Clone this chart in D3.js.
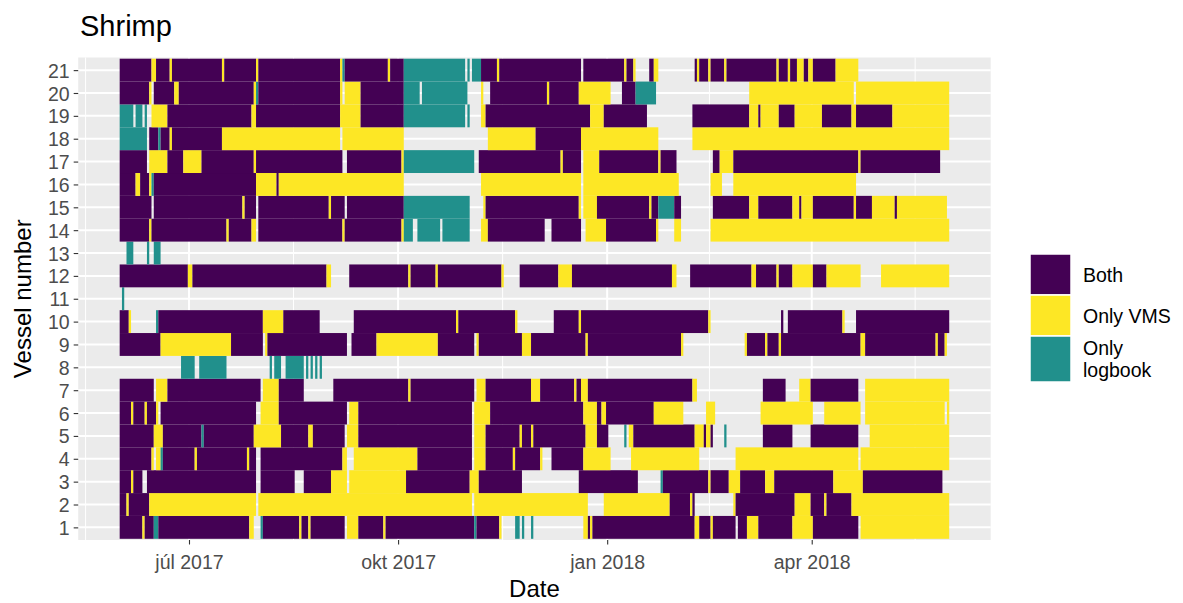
<!DOCTYPE html>
<html><head><meta charset="utf-8">
<script src="https://cdn.jsdelivr.net/npm/d3@7"></script>
<style>body{margin:0;background:#fff}svg{display:block}text{font-family:"Liberation Sans",Arial,sans-serif}</style>
</head><body><svg id="c" width="1183" height="603"></svg>
<script>
// ---- data ----
const startDate = "2017-06-01";           // day 0
const numDays = 365;
const categories = ["Both", "Only VMS", "Only logbook"];
const catCodes = ["B", "V", "L"];
const catColors = ["#440154", "#FDE725", "#21908C"];
const tickDates = ["2017-07-01", "2017-10-01", "2018-01-01", "2018-04-01"];
const tickLabels = ["júl 2017", "okt 2017", "jan 2018", "apr 2018"];
const vesselNumbers = d3.range(1, 22);
// runs: [firstDay, endDay(exclusive), category code]
const vessel1 = [[0,10,"B"],[10,11,"V"],[11,15,"B"],[15,17,"L"],[17,57,"B"],[57,59,"V"],[62,63,"L"],[63,79,"B"],[79,80,"V"],[80,83,"B"],[83,84,"V"],[84,99,"B"],[100,105,"V"],[105,116,"B"],[116,117,"V"],[117,156,"B"],[156,157,"L"],[157,167,"B"],[167,168,"V"],[174,176,"L"],[177,178,"L"],[181,182,"L"],[204,206,"V"],[206,207,"B"],[207,208,"V"],[208,253,"B"],[253,255,"V"],[255,260,"B"],[260,261,"V"],[261,271,"B"],[272,276,"B"],[276,281,"V"],[281,296,"B"],[296,305,"V"],[305,325,"B"],[326,365,"V"]];
const vessel2 = [[0,3,"B"],[3,4,"V"],[4,13,"B"],[13,60,"V"],[61,155,"V"],[156,206,"V"],[213,242,"V"],[242,251,"B"],[251,252,"V"],[252,253,"B"],[270,271,"V"],[271,297,"B"],[297,304,"V"],[304,310,"B"],[310,311,"V"],[311,322,"B"],[322,365,"V"]];
const vessel3 = [[0,5,"B"],[5,6,"V"],[6,10,"B"],[12,60,"B"],[62,77,"B"],[81,93,"B"],[93,100,"V"],[101,126,"V"],[126,154,"B"],[154,158,"V"],[158,177,"B"],[202,228,"B"],[238,239,"L"],[239,259,"B"],[259,260,"V"],[260,268,"B"],[268,273,"V"],[273,284,"B"],[284,288,"V"],[288,314,"B"],[314,327,"V"],[327,362,"B"]];
const vessel4 = [[0,14,"B"],[14,15,"V"],[16,18,"V"],[18,19,"L"],[19,33,"B"],[33,34,"V"],[34,56,"B"],[56,57,"V"],[57,60,"B"],[62,98,"B"],[98,100,"V"],[103,131,"V"],[131,155,"B"],[156,161,"V"],[161,173,"B"],[173,174,"V"],[174,185,"B"],[185,186,"V"],[190,204,"B"],[204,216,"V"],[225,255,"V"],[271,325,"V"],[326,365,"V"]];
const vessel5 = [[0,15,"B"],[15,19,"V"],[19,36,"B"],[36,37,"L"],[37,59,"B"],[59,71,"V"],[71,83,"B"],[83,85,"V"],[85,99,"B"],[100,105,"V"],[105,155,"B"],[156,161,"V"],[161,176,"B"],[176,177,"V"],[177,181,"B"],[181,182,"V"],[182,205,"B"],[205,210,"V"],[210,215,"B"],[222,223,"L"],[224,226,"V"],[226,253,"B"],[253,257,"V"],[257,258,"B"],[258,260,"V"],[260,261,"B"],[266,267,"L"],[283,296,"B"],[304,325,"B"],[330,365,"V"]];
const vessel6 = [[0,5,"B"],[5,6,"V"],[6,11,"B"],[11,12,"V"],[12,16,"B"],[16,17,"V"],[18,60,"B"],[62,70,"V"],[70,100,"B"],[101,105,"V"],[105,155,"B"],[156,163,"V"],[163,204,"B"],[204,210,"V"],[210,212,"B"],[212,214,"V"],[214,235,"B"],[235,248,"V"],[258,262,"V"],[282,305,"V"],[310,326,"V"],[328,363,"V"],[364,365,"V"]];
const vessel7 = [[0,15,"B"],[16,21,"V"],[21,62,"B"],[63,70,"V"],[70,81,"B"],[94,127,"B"],[127,128,"V"],[128,156,"B"],[157,161,"V"],[161,181,"B"],[181,185,"V"],[185,200,"B"],[200,201,"V"],[201,203,"B"],[203,206,"V"],[206,252,"B"],[252,254,"V"],[283,293,"B"],[299,304,"V"],[304,325,"B"],[328,365,"V"]];
const vessel8 = [[27,33,"L"],[35,47,"L"],[66,67,"L"],[68,71,"L"],[73,81,"L"],[82,83,"L"],[84,85,"L"],[86,87,"L"],[88,89,"L"]];
const vessel9 = [[0,18,"B"],[18,49,"V"],[49,63,"B"],[64,65,"V"],[65,100,"B"],[102,113,"B"],[113,140,"V"],[140,156,"B"],[157,158,"V"],[158,177,"B"],[177,181,"V"],[181,205,"B"],[205,206,"V"],[206,247,"B"],[247,248,"V"],[275,276,"V"],[276,284,"B"],[284,285,"V"],[285,290,"B"],[290,291,"V"],[291,326,"B"],[326,328,"V"],[328,359,"B"],[359,360,"V"],[360,363,"B"],[363,364,"V"]];
const vessel10 = [[0,4,"B"],[4,5,"V"],[16,17,"L"],[17,63,"B"],[63,72,"V"],[72,88,"B"],[103,148,"B"],[148,149,"V"],[149,174,"B"],[174,175,"V"],[191,202,"B"],[202,203,"V"],[203,259,"B"],[259,260,"V"],[291,292,"B"],[294,318,"B"],[318,319,"V"],[324,365,"B"]];
const vessel11 = [[1,2,"L"]];
const vessel12 = [[0,30,"B"],[30,32,"V"],[32,91,"B"],[91,93,"V"],[101,127,"B"],[127,128,"V"],[128,139,"B"],[139,140,"V"],[140,168,"B"],[168,169,"V"],[176,193,"B"],[193,199,"V"],[199,243,"B"],[243,245,"V"],[251,278,"B"],[278,280,"V"],[280,289,"B"],[289,290,"V"],[290,296,"B"],[296,305,"V"],[305,311,"B"],[311,326,"V"],[335,365,"V"]];
const vessel13 = [[3,6,"L"],[12,13,"L"],[15,18,"L"]];
const vessel14 = [[0,13,"B"],[13,14,"V"],[14,47,"B"],[47,48,"V"],[48,58,"B"],[58,60,"V"],[61,98,"B"],[98,99,"V"],[99,124,"B"],[124,125,"V"],[125,129,"L"],[131,141,"L"],[142,154,"L"],[159,162,"V"],[162,187,"B"],[190,203,"B"],[205,214,"V"],[214,236,"B"],[236,237,"V"],[244,247,"V"],[260,365,"V"]];
const vessel15 = [[0,14,"B"],[15,54,"B"],[54,55,"V"],[55,60,"B"],[61,92,"B"],[92,93,"V"],[93,99,"B"],[100,125,"B"],[125,154,"L"],[160,161,"V"],[161,202,"B"],[202,203,"V"],[204,210,"V"],[210,233,"B"],[233,234,"V"],[234,237,"B"],[237,244,"L"],[244,247,"B"],[261,277,"B"],[277,281,"V"],[281,296,"B"],[296,299,"V"],[299,300,"B"],[300,305,"V"],[305,323,"B"],[323,324,"V"],[324,331,"B"],[331,341,"V"],[341,342,"B"],[342,364,"V"]];
const vessel16 = [[0,7,"B"],[7,9,"V"],[9,13,"B"],[13,14,"V"],[14,15,"L"],[15,60,"B"],[60,69,"V"],[69,70,"B"],[70,125,"V"],[159,203,"V"],[204,246,"V"],[260,265,"V"],[270,324,"V"]];
const vessel17 = [[0,12,"B"],[13,21,"V"],[21,28,"B"],[28,36,"V"],[36,59,"B"],[59,60,"V"],[60,98,"B"],[100,124,"B"],[124,125,"V"],[125,156,"L"],[158,194,"B"],[194,195,"V"],[195,203,"B"],[204,211,"V"],[211,237,"B"],[237,238,"V"],[238,245,"B"],[261,264,"B"],[264,270,"V"],[270,325,"B"],[325,326,"V"],[326,361,"B"]];
const vessel18 = [[0,12,"L"],[13,17,"B"],[17,18,"L"],[18,22,"B"],[22,23,"V"],[23,45,"B"],[45,97,"V"],[98,125,"V"],[162,183,"V"],[183,203,"B"],[203,237,"V"],[252,365,"V"]];
const vessel19 = [[0,6,"L"],[7,10,"L"],[11,12,"L"],[14,21,"V"],[21,58,"B"],[58,60,"V"],[60,97,"B"],[97,106,"V"],[106,125,"B"],[125,152,"L"],[153,154,"L"],[159,161,"V"],[161,207,"B"],[207,213,"V"],[213,232,"B"],[252,277,"B"],[277,281,"V"],[281,282,"B"],[282,290,"V"],[290,297,"B"],[297,309,"V"],[309,322,"B"],[322,324,"V"],[324,340,"B"],[340,365,"V"]];
const vessel20 = [[0,13,"B"],[13,14,"V"],[15,24,"B"],[24,26,"V"],[26,59,"B"],[59,60,"V"],[60,61,"L"],[61,97,"B"],[97,98,"V"],[99,106,"V"],[106,125,"B"],[125,132,"L"],[133,153,"L"],[159,160,"V"],[163,188,"B"],[188,189,"V"],[189,202,"B"],[202,216,"V"],[221,227,"B"],[227,236,"L"],[277,323,"V"],[324,365,"V"]];
const vessel21 = [[0,14,"B"],[14,16,"V"],[16,22,"B"],[22,23,"V"],[23,45,"B"],[45,46,"V"],[46,60,"B"],[60,61,"V"],[61,97,"B"],[97,98,"V"],[98,99,"L"],[99,118,"B"],[118,119,"V"],[119,125,"B"],[125,152,"L"],[153,154,"L"],[155,159,"L"],[159,166,"B"],[166,167,"V"],[167,203,"B"],[204,222,"B"],[222,223,"V"],[223,226,"B"],[226,227,"V"],[233,235,"B"],[235,237,"V"],[253,254,"B"],[254,255,"V"],[255,259,"B"],[259,260,"V"],[260,266,"B"],[266,267,"V"],[267,289,"B"],[289,290,"V"],[290,294,"B"],[294,295,"V"],[295,298,"B"],[298,301,"V"],[301,303,"B"],[303,305,"V"],[305,315,"B"],[315,325,"V"]];
const vesselRuns = [vessel1,vessel2,vessel3,vessel4,vessel5,vessel6,vessel7,vessel8,vessel9,vessel10,vessel11,vessel12,vessel13,vessel14,vessel15,vessel16,vessel17,vessel18,vessel19,vessel20,vessel21];

// ---- layout ----
const DAY = 864e5;
const t0 = Date.parse(startDate + "T00:00:00Z");
const dayTime = d => new Date(t0 + d * DAY);
const panel = {left: 78.2, right: 990.7, top: 57.5, bottom: 540};
const lo = -0.5, hi = numDays - 0.5, pad = (hi - lo) * 0.05;
const x = d3.scaleUtc().domain([dayTime(lo - pad), dayTime(hi + pad)]).range([panel.left, panel.right]);
const y = d3.scaleLinear().domain([0.5, 21.5]).range([538.8, 58.7]);
const color = d3.scaleOrdinal().domain(catCodes).range(catColors);

const svg = d3.select("#c");
svg.append("rect").attr("x", panel.left).attr("y", panel.top)
  .attr("width", panel.right - panel.left).attr("height", panel.bottom - panel.top).attr("fill", "#EBEBEB");

const majors = tickDates.map(s => new Date(s + "T00:00:00Z"));
const allQ = [new Date("2017-04-01T00:00:00Z"), ...majors, new Date("2018-07-01T00:00:00Z")];
const minors = d3.pairs(allQ).map(([a, b]) => new Date((+a + +b) / 2)).filter(d => x(d) > panel.left && x(d) < panel.right);
const g = svg.append("g");
g.selectAll(".mnx").data(minors).join("line").attr("x1", d => x(d)).attr("x2", d => x(d))
  .attr("y1", panel.top).attr("y2", panel.bottom).attr("stroke", "#fff").attr("stroke-width", 1);
g.selectAll(".mjx").data(majors).join("line").attr("x1", d => x(d)).attr("x2", d => x(d))
  .attr("y1", panel.top).attr("y2", panel.bottom).attr("stroke", "#fff").attr("stroke-width", 2);
g.selectAll(".mjy").data(vesselNumbers).join("line").attr("x1", panel.left).attr("x2", panel.right)
  .attr("y1", d => y(d)).attr("y2", d => y(d)).attr("stroke", "#fff").attr("stroke-width", 2);

// tiles
const tiles = [];
vesselRuns.forEach((runs, i) => runs.forEach(r => tiles.push({v: vesselNumbers[i], s: r[0], e: r[1], c: r[2]})));
svg.append("g").selectAll("rect").data(tiles).join("rect")
  .attr("x", d => x(dayTime(d.s - 0.5)))
  .attr("width", d => x(dayTime(d.e - 0.5)) - x(dayTime(d.s - 0.5)))
  .attr("y", d => y(d.v + 0.5)).attr("height", d => y(d.v - 0.5) - y(d.v + 0.5))
  .attr("fill", d => color(d.c));

// axes
const xAxis = d3.axisBottom(x).tickValues(majors).tickFormat((d, i) => tickLabels[i]).tickSize(4.5).tickPadding(6);
const gx = svg.append("g").attr("transform", `translate(0,${panel.bottom})`).call(xAxis);
gx.select(".domain").remove();
gx.selectAll("line").attr("stroke", "#333").attr("stroke-width", 1.1);
gx.selectAll("text").attr("fill", "#4D4D4D").style("font-size", "19.5px").attr("dy", "0.95em");

const yAxis = d3.axisLeft(y).tickValues(vesselNumbers).tickFormat(d3.format("d")).tickSize(4.5).tickPadding(4);
const gy = svg.append("g").attr("transform", `translate(${panel.left},0)`).call(yAxis);
gy.select(".domain").remove();
gy.selectAll("line").attr("stroke", "#333").attr("stroke-width", 1.1);
gy.selectAll("text").attr("fill", "#4D4D4D").style("font-size", "19.5px").attr("dy", "0.36em");

// titles
svg.append("text").attr("x", 80).attr("y", 36).text("Shrimp").style("font-size", "29px").attr("fill", "#000");
svg.append("text").attr("x", (panel.left + panel.right) / 2).attr("y", 597).attr("text-anchor", "middle")
  .text("Date").style("font-size", "24px").attr("fill", "#000");
svg.append("text").attr("transform", `translate(31,${(panel.top + panel.bottom) / 2}) rotate(-90)`)
  .attr("text-anchor", "middle").text("Vessel number").style("font-size", "24px").attr("fill", "#000");

// legend
const legendKeys = [{c: "B", y: 254, h: 41, lines: [categories[0]]},
                    {c: "V", y: 295, h: 41, lines: [categories[1]]},
                    {c: "L", y: 336, h: 46, lines: ["Only", "logbook"]}];
const lg = svg.append("g");
legendKeys.forEach(k => {
  lg.append("rect").attr("x", 1030).attr("y", k.y).attr("width", 41).attr("height", k.h)
    .attr("fill", color(k.c)).attr("stroke", "#fff").attr("stroke-width", 1.5);
  const t = lg.append("text").attr("x", 1083).attr("fill", "#000").style("font-size", "19.5px");
  const n = k.lines.length, lh = 22;
  k.lines.forEach((s, j) => t.append("tspan").attr("x", 1083)
    .attr("y", k.y + k.h / 2 + (j - (n - 1) / 2) * lh).attr("dy", "0.36em").text(s));
});
</script></body></html>
